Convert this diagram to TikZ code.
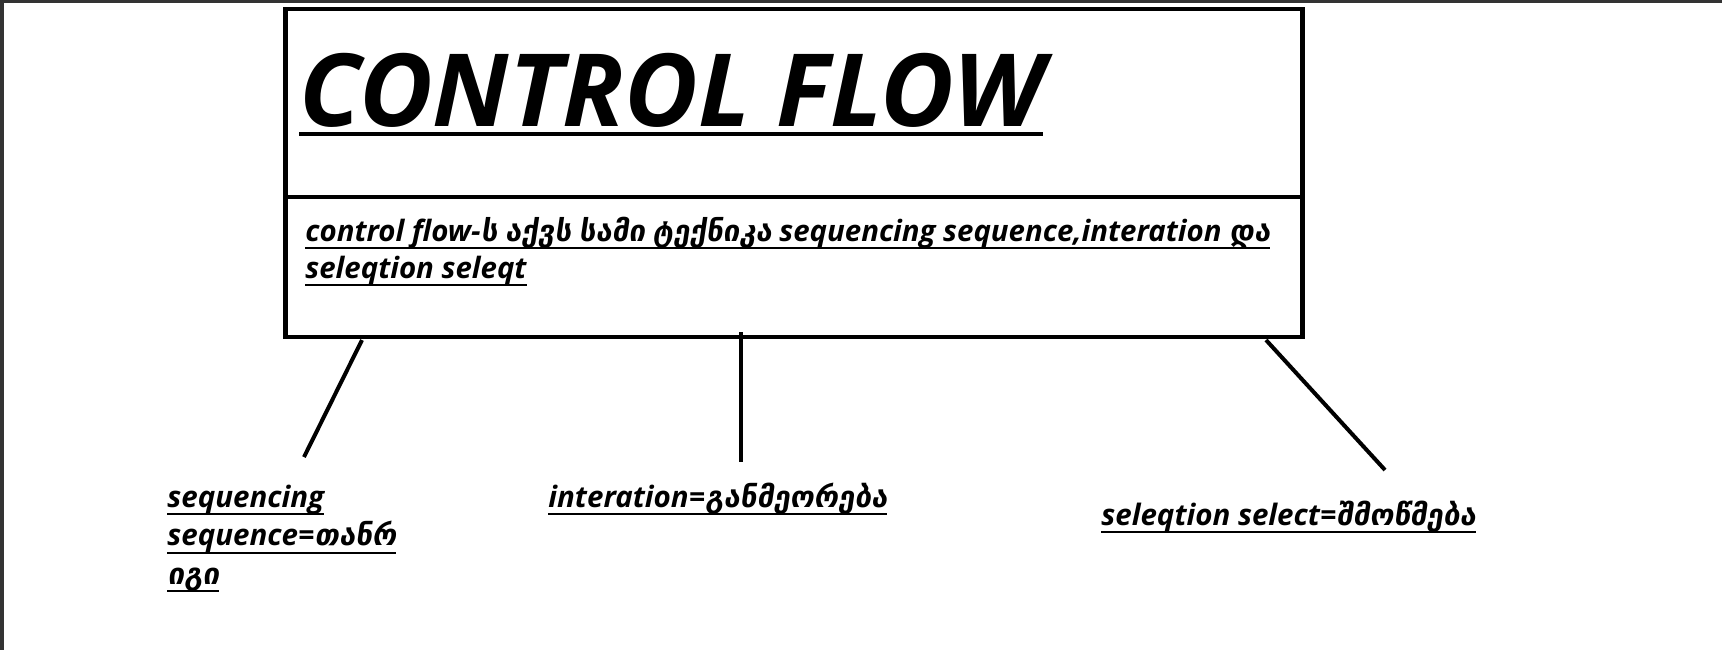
\documentclass[tikz,border=0pt]{standalone}
\usepackage{fontspec}
\setmainfont{Open Sans}
\newfontfamily\geo[FakeSlant=0.15]{DejaVu Sans}
\newcommand{\ka}[1]{{\geo\upshape #1}}
% underline: thickness, depth, text
\newcommand{\cful}[3]{\leavevmode\setbox0=\hbox{#3}%
  \rlap{\vrule height \dimexpr #1-#2\relax depth #2 width \wd0}\box0}
\usetikzlibrary{positioning}
\tikzset{
  cfframe/.style={draw=black!80, line width=2pt},
  cfbox/.style={draw=black, line width=2.2pt, minimum width=508.5pt, minimum height=164pt, inner sep=0pt},
  cfrule/.style={draw=black, line width=2pt},
  cftitle/.style={anchor=base west, inner sep=0pt, font=\fontsize{50.5}{58}\selectfont\bfseries\itshape},
  cfbody/.style={anchor=base west, inner sep=0pt, align=left, font=\fontsize{14.7}{18.3}\selectfont\bfseries\itshape},
  cflabel/.style={anchor=base west, inner sep=0pt, align=left, font=\fontsize{14.75}{19.2}\selectfont\bfseries\itshape},
  cfbranch/.style={draw=black, line width=2pt}
}

\begin{document}
\begin{tikzpicture}[x=0.5pt, y=-0.5pt]
  \useasboundingbox (0,0) rectangle (1722,650);
  \draw[cfframe] (0,1) -- (1722,1);
  \draw[cfframe] (2,0) -- (2,650);

  % main box
  \node[cfbox] (cfbox) at (794,173) {};
  \draw[cfrule] (cfbox.west |- 0,196.6) -- (cfbox.east |- 0,196.6);
  \node[cftitle] (title) at (299,126) {\cful{2.2pt}{5pt}{CONTROL FLOW}};
  \node[cfbody] (body) at (305,278) {%
    \cful{1pt}{4pt}{control flow-\ka{ს} \ka{აქვს} \ka{სამი} \ka{ტექნიკა} sequencing sequence,interation \ka{და}}\\
    \cful{1pt}{4pt}{seleqtion seleqt}};

  % branches
  \node[cflabel] (seq) at (167,584) {%
    \cful{1pt}{4pt}{sequencing}\\ \cful{1pt}{4pt}{sequence=\ka{თანრ}}\\ \cful{1pt}{4pt}{\ka{იგი}}};
  \node[cflabel] (iter) at (548,507) {\cful{1pt}{4pt}{interation=\ka{განმეორება}}};
  \node[cflabel] (sel) at (1101,525) {\cful{1pt}{4pt}{seleqtion select=\ka{შმოწმება}}};

  \coordinate (b1) at (362,340);
  \coordinate (e1) at (304,457);
  \coordinate (b2) at (741,332);
  \coordinate (e2) at (741,462);
  \coordinate (b3) at (1266,340);
  \coordinate (e3) at (1385,470);
  \draw[cfbranch] (b1) -- (e1);
  \draw[cfbranch] (b2) -- (e2);
  \draw[cfbranch] (b3) -- (e3);
\end{tikzpicture}
\end{document}
